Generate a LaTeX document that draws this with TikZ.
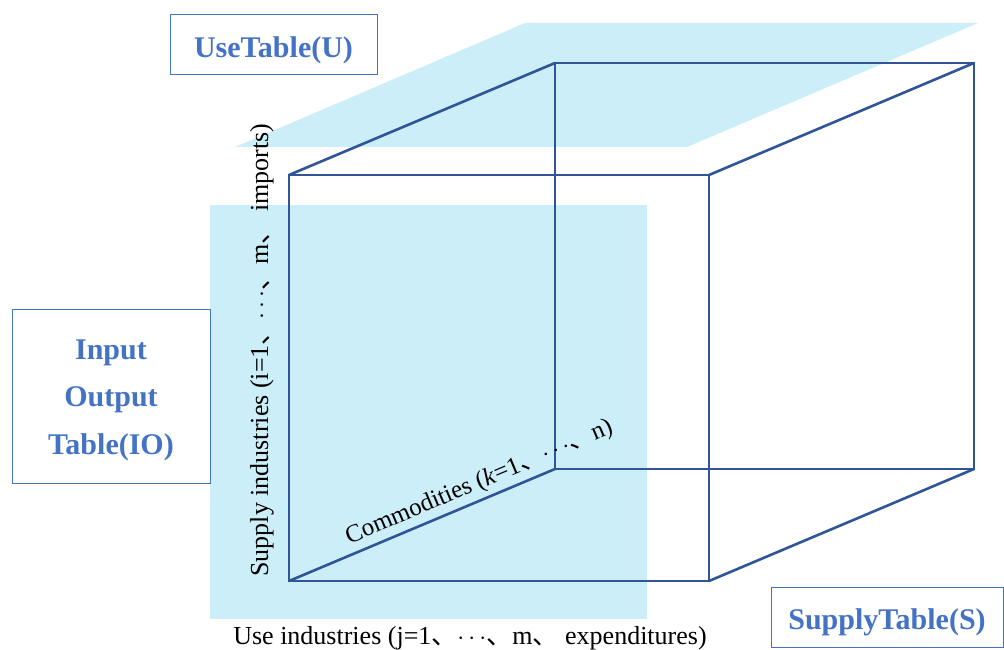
\documentclass[tikz,border=0pt]{standalone}
\usepackage{fontspec}
\setmainfont{Liberation Serif}
\newfontfamily\cjk{Noto Sans CJK SC}
\definecolor{planeblue}{HTML}{CCEEF9}
\definecolor{edgeblue}{HTML}{2F5597}
\definecolor{boxblue}{HTML}{4472C4}
\newcommand{\dotsmid}{$\cdots$}
\tikzset{
  edge/.style={draw=edgeblue, line width=2.6pt, line join=miter},
  tablebox/.style={draw=boxblue, line width=1pt, inner sep=0pt},
  tabletext/.style={text=boxblue, font=\bfseries\fontsize{30}{47.5}\selectfont, align=center, inner sep=0pt},
  axislabel/.style={text=black, font=\fontsize{26}{30}\selectfont, inner sep=2pt}
}
\begin{document}
\begin{tikzpicture}[x=1pt,y=-1pt]
\useasboundingbox (0,0) rectangle (1004,650);
% planes
\fill[planeblue] (210,205) rectangle (647,619);
\fill[planeblue] (235,147) -- (525,23) -- (978,23) -- (687,147) -- cycle;
% cube corners
\coordinate (ftl) at (289,175);
\coordinate (ftr) at (709,175);
\coordinate (fbl) at (289,581);
\coordinate (fbr) at (709,581);
\coordinate (btl) at (555,63);
\coordinate (btr) at (974,63);
\coordinate (bbl) at (555,469);
\coordinate (bbr) at (974,469);
% edges
\draw[edge] (ftl) -- (ftr) -- (fbr) -- (fbl) -- cycle;
\draw[edge] (btl) -- (btr) -- (bbr) -- (bbl) -- cycle;
\draw[edge] (ftl) -- (btl);
\draw[edge] (ftr) -- (btr);
\draw[edge] (fbr) -- (bbr);
\draw[edge] (fbl) -- node[pos=0.74, sloped, above, axislabel, font=\fontsize{25}{30}\selectfont, inner sep=4pt] (comm) {Commodities (\textit{k}=1{\cjk 、}\dotsmid{\cjk 、}n)} (bbl);
% axis labels
\node[axislabel, rotate=90] (supply) at (262,350) {Supply industries (i=1{\cjk 、}\dotsmid{\cjk 、}m{\cjk 、} imports)};
\node[axislabel] (use) at (470,638) {Use industries (j=1{\cjk 、}\dotsmid{\cjk 、}m{\cjk 、} expenditures)};
% table boxes
\node[tablebox, minimum width=207pt, minimum height=60pt] (usebox) at (273.5,45) {};
\node[tabletext] (usetext) at ([yshift=-5pt]usebox.center) {UseTable(U)};
\node[tablebox, minimum width=198pt, minimum height=174pt] (iobox) at (111,396) {};
\node[tabletext] (iotext) at ([yshift=-4pt]iobox.center) {Input\\Output\\Table(IO)};
\node[tablebox, minimum width=232pt, minimum height=60pt] (supbox) at (887,617) {};
\node[tabletext] (suptext) at ([yshift=-5pt]supbox.center) {SupplyTable(S)};
\end{tikzpicture}
\end{document}
